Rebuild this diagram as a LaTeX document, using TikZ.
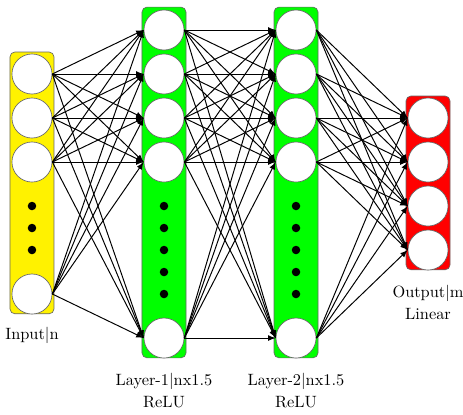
\documentclass[tikz,border=0pt]{standalone}
\usepackage{tikz}
\usetikzlibrary{positioning, calc}
\usepackage{xcolor}

\begin{document}
\begin{tikzpicture}[x=0.945cm, y=-0.945cm,
        neuron/.style={circle, draw=black!60, fill=white, minimum size=0.86cm, inner sep=0pt},
        layerbox/.style={rounded corners=3pt, draw=black!60},
        conn/.style={->, >=latex, line width=0.6pt}]
            \useasboundingbox (-0.727,-0.682) rectangle (9.795,8.727);

            % layer boxes
            \filldraw[layerbox, fill=yellow] (-0.5,0.5) rectangle (0.5,6.45);
            \filldraw[layerbox, fill=green] (2.5,-0.52) rectangle (3.5,7.45);
            \filldraw[layerbox, fill=green] (5.5,-0.52) rectangle (6.5,7.45);
            \filldraw[layerbox, fill=red] (8.5,1.5) rectangle (9.5,5.45);

            % neurons
            \foreach \r in {1,2,3,6}
                \node[neuron] (I\r) at (0,\r) {};
            \foreach \r in {0,1,2,3,7}
                \node[neuron] (A\r) at (3,\r) {};
            \foreach \r in {0,1,2,3,7}
                \node[neuron] (B\r) at (6,\r) {};
            \foreach \r in {2,3,4,5}
                \node[neuron] (O\r) at (9,\r) {};

            % dots
            \foreach \r in {4,4.5,5}
                \fill[black] (0,\r) circle (2.6pt);
            \foreach \r in {4,4.5,5,5.5,6} {
                \fill[black] (3,\r) circle (2.6pt);
                \fill[black] (6,\r) circle (2.6pt);
            }

            % connections
            \foreach \i in {1,2,3,6}
                \foreach \j in {0,1,2,3,7}
                    \draw[conn] (I\i.east) -- (A\j.west);
            \foreach \i in {0,1,2,3,7}
                \foreach \j in {0,1,2,3,7}
                    \draw[conn] (A\i.east) -- (B\j.west);
            \foreach \i in {0,1,2,3,7}
                \foreach \j in {2,3,4,5}
                    \draw[conn] (B\i.east) -- (O\j.west);

            % labels
            \node (inlabel) at (0,6.93) {Input|n};
            \node[align=center] (alabel) at (3,8.19) {Layer-1|nx1.5\\[1.5pt]ReLU};
            \node[align=center] (blabel) at (6,8.19) {Layer-2|nx1.5\\[1.5pt]ReLU};
            \node[align=center] (outlabel) at (9,6.2) {Output|m\\[1.5pt]Linear};
        \end{tikzpicture}
\end{document}
